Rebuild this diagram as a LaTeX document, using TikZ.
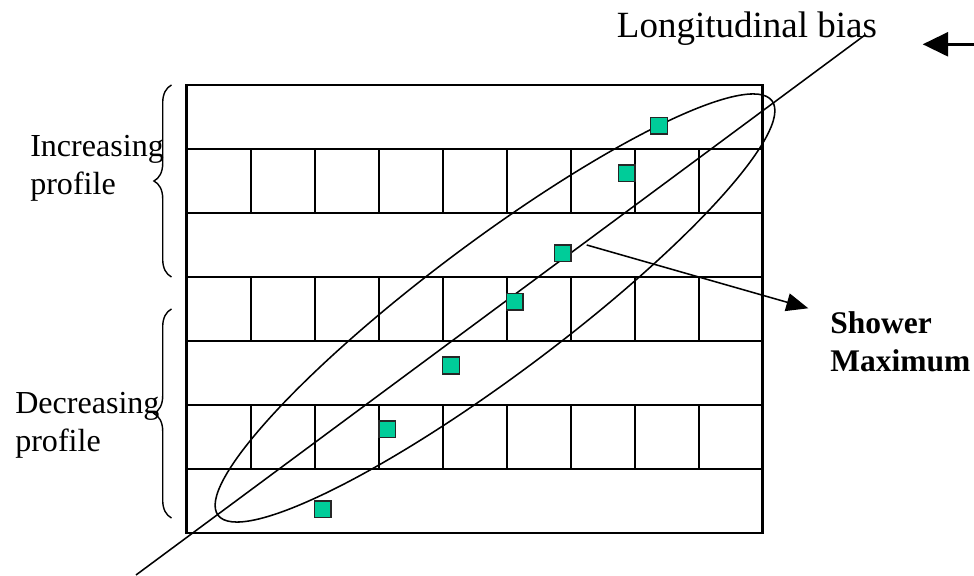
\documentclass[tikz,border=0pt]{standalone}
\usepackage{fontspec}
\setmainfont{Liberation Serif}
\usetikzlibrary{arrows.meta,positioning,shapes.geometric,decorations.pathreplacing}
\definecolor{padgreen}{RGB}{0,204,153}
\tikzset{frame/.style={draw, line width=1.8pt}, layer/.style={line width=1.2pt}, pad/.style={draw=black!85, fill=padgreen, line width=1pt, minimum size=12pt, inner sep=0pt}, lbl/.style={font=\fontsize{22.8}{27.4}\selectfont, align=left, inner sep=0pt, anchor=base west}, bigarrow/.style={-{Triangle[length=18pt,width=17pt]}, line width=1.9pt}, thinarrow/.style={-{Triangle[length=15.6pt,width=12.8pt]}, line width=1.1pt}, profbrace/.style={decorate, decoration={brace, amplitude=12.5pt}, line width=1pt}}

\begin{document}
\begin{tikzpicture}[x=0.025cm,y=-0.025cm]
\useasboundingbox (0,0) rectangle (974,576);
% layers of the calorimeter
\draw[frame] (186.7,85) rectangle (762.7,533);
\foreach \y in {149,213,277,341,405,469} \draw[layer] (186.7,\y) -- (762.7,\y);
\foreach \y in {149,277,405} \foreach \i in {1,...,8} \draw[layer] ({186.7+64*\i},\y) -- ({186.7+64*\i},{\y+64});
% labels
\node[lbl, font=\fontsize{26.3}{31}\selectfont] (bias) at (616.7,38) {Longitudinal bias};
\node[lbl] (incr) at (30,195) {Increasing\\profile};
\node[lbl] (decr) at (15,452) {Decreasing\\profile};
\node[lbl, font=\fontsize{22.4}{27.3}\selectfont\bfseries] (smax) at (830,371.7) {Shower\\Maximum};
% braces
\coordinate (b1lo) at (171.5,277);
\coordinate (b1hi) at (171.5,85);
\coordinate (b2lo) at (171.5,518);
\coordinate (b2hi) at (171.5,309);
\draw[profbrace] (b1lo) -- (b1hi);
\draw[profbrace] (b2lo) -- (b2hi);
% cluster and shower axis
\node[draw, ellipse, line width=1.1pt, minimum width=492pt, minimum height=95pt, rotate=36.8, inner sep=0pt] (clus) at (495,308) {};
\coordinate (axlo) at (136,575);
\coordinate (axhi) at (865,35);
\draw[line width=1.1pt] (axlo) -- (axhi);
% arrows
\coordinate (sfrom) at (586.7,245);
\coordinate (sto) at (808.3,308.3);
\draw[thinarrow] (sfrom) -- (sto);
\coordinate (bfrom) at (976,44.3);
\coordinate (bto) at (922.7,44.3);
\draw[bigarrow] (bfrom) -- (bto);
% hit pads
\node[pad] (p1) at (659,125.7) {};
\node[pad] (p2) at (626.7,173.3) {};
\node[pad] (p3) at (562.7,253.3) {};
\node[pad] (p4) at (514.7,301.7) {};
\node[pad] (p5) at (451,365.5) {};
\node[pad] (p6) at (387.3,429.3) {};
\node[pad] (p7) at (322.7,509.3) {};
\end{tikzpicture}
\end{document}
